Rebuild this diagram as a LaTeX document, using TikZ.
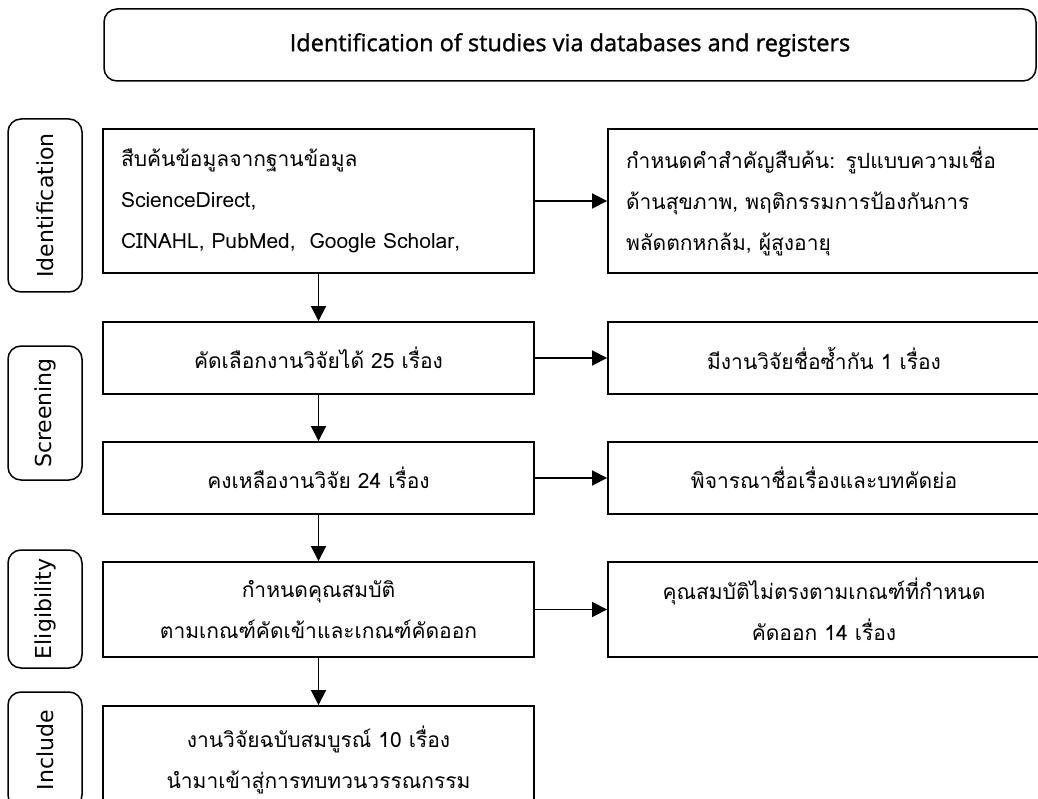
\documentclass[tikz,border=0pt]{standalone}
\usepackage{fontspec}
\newfontfamily\thai[Script=Thai]{Loma}
\newfontfamily\lab{DejaVu Sans}
\newfontfamily\hdr[FakeBold=1.2]{Open Sans}
\usetikzlibrary{arrows.meta}
\begin{document}
\begin{tikzpicture}[x=1pt,y=-1pt,
  box/.style={draw, line width=1.9pt, inner xsep=18pt, inner ysep=0pt,
    font=\thai\fontsize{21}{41}\selectfont},
  lbox/.style={box, minimum width=431pt},
  rbox/.style={box, minimum width=432pt},
  sidelab/.style={draw, line width=1.5pt, rounded corners=13pt, rotate=90,
    minimum height=74pt, inner sep=0pt, font=\lab\fontsize{22}{24}\selectfont},
  arr/.style={line width=1.8pt, -{Triangle[length=15pt,width=15pt]}}]
\useasboundingbox (0,0) rectangle (1038,799);
\fill[white] (0,0) rectangle (1038,799);

% header
\node[draw, line width=1.5pt, rounded corners=13pt, minimum width=932pt,
  minimum height=72pt, font=\hdr\fontsize{23.5}{26}\selectfont] (hd) at (570,45)
  {Identification of studies via databases and registers};

% side labels
\node[sidelab, minimum width=173pt] (L1) at (45,205.5) {Identification};
\node[sidelab, minimum width=134pt] (L2) at (45,413) {Screening};
\node[sidelab, minimum width=118pt] (L3) at (45,609) {Eligibility};
\node[sidelab, minimum width=116pt] (L4) at (45,750) {Include};

% left column
\node[lbox, minimum height=144pt, text width=395pt, align=left] (b1) at (318.5,201)
  {\mbox{สืบค้นข้อมูลจากฐานข้อมูล}\\ \mbox{ScienceDirect,}\\ \mbox{CINAHL, PubMed,\ \ Google Scholar,}};
\node[lbox, minimum height=72pt, align=center] (b2) at (318.5,358) {คัดเลือกงานวิจัยได้ 25 เรื่อง};
\node[lbox, minimum height=72pt, align=center] (b3) at (318.5,478) {คงเหลืองานวิจัย 24 เรื่อง};
\node[lbox, minimum height=95pt, align=center] (b4) at (318.5,609.5)
  {กำหนดคุณสมบัติ\\ ตามเกณฑ์คัดเข้าและเกณฑ์คัดออก};
\node[lbox, minimum height=108pt, align=center] (b5) at (318.5,760)
  {งานวิจัยฉบับสมบูรณ์ 10 เรื่อง\\ นำมาเข้าสู่การทบทวนวรรณกรรม};

% right column
\node[rbox, minimum height=144pt, text width=396pt, align=left] (r1) at (824,201)
  {\mbox{กำหนดคำสำคัญสืบค้น: รูปแบบความเชื่อ}\\ \mbox{ด้านสุขภาพ, พฤติกรรมการป้องกันการ}\\ \mbox{พลัดตกหกล้ม, ผู้สูงอายุ}};
\node[rbox, minimum height=72pt, align=center] (r2) at (824,358) {มีงานวิจัยชื่อซ้ำกัน 1 เรื่อง};
\node[rbox, minimum height=72pt, align=center] (r3) at (824,478) {พิจารณาชื่อเรื่องและบทคัดย่อ};
\node[rbox, minimum height=95pt, align=center] (r4) at (824,609.5)
  {คุณสมบัติไม่ตรงตามเกณฑ์ที่กำหนด\\ คัดออก 14 เรื่อง};

% arrows
\draw[arr] (b1) -- (r1);
\draw[arr] (b2) -- (r2);
\draw[arr] (b3) -- (r3);
\draw[arr] (b4) -- (r4);
\draw[arr] (b1) -- (b2);
\draw[arr] (b2) -- (b3);
\draw[arr] (b3) -- (b4);
\draw[arr] (b4) -- (b5);
\end{tikzpicture}
\end{document}
